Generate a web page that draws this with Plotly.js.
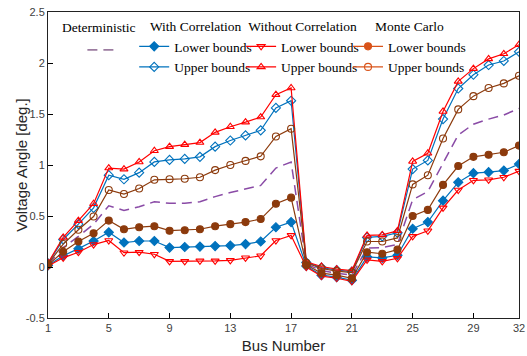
<!DOCTYPE html>
<html>
<head>
<meta charset="utf-8">
<script src="https://cdn.plot.ly/plotly-3.0.1.min.js"></script>
<style>html,body{margin:0;padding:0;background:#fff;}#chart{width:527px;height:356px;}</style>
</head>
<body>
<div id="chart"></div>
<script>
const bus = [1,2,3,4,5,6,7,8,9,10,11,12,13,14,15,16,17,18,19,20,21,22,23,24,25,26,27,28,29,30,31,32];
const xTicks = [1,5,9,13,17,21,25,29,32];
const yTicks = [-0.5,0,0.5,1,1.5,2,2.5];
const yTickText = ['-0.5','0','0.5','1','1.5','2','2.5'];

const deterministic = [0.025,0.19,0.30,0.42,0.60,0.555,0.59,0.64,0.625,0.625,0.64,0.69,0.73,0.765,0.80,0.97,1.03,0.03,-0.035,-0.06,-0.08,0.185,0.19,0.22,0.66,0.74,1.02,1.295,1.40,1.45,1.49,1.555];
const wcLower = [0.015,0.11,0.18,0.255,0.34,0.24,0.255,0.255,0.19,0.196,0.20,0.205,0.21,0.225,0.25,0.39,0.44,0.01,-0.08,-0.10,-0.13,0.10,0.09,0.115,0.375,0.44,0.65,0.83,0.92,0.93,0.945,1.01];
const wcUpper = [0.035,0.27,0.42,0.58,0.90,0.86,0.925,1.03,1.05,1.06,1.08,1.18,1.24,1.29,1.34,1.56,1.63,0.045,-0.005,-0.03,-0.045,0.29,0.30,0.335,0.96,1.045,1.45,1.75,1.885,1.98,2.02,2.11];
const woLower = [0.01,0.09,0.145,0.22,0.26,0.14,0.145,0.125,0.055,0.055,0.06,0.06,0.065,0.09,0.11,0.26,0.31,0.0,-0.09,-0.11,-0.14,0.07,0.055,0.085,0.30,0.355,0.58,0.755,0.85,0.855,0.88,0.94];
const woUpper = [0.04,0.29,0.455,0.62,0.97,0.96,1.03,1.14,1.18,1.20,1.22,1.32,1.375,1.42,1.47,1.69,1.755,0.05,0.005,-0.02,-0.035,0.31,0.315,0.355,1.035,1.115,1.525,1.82,1.945,2.04,2.09,2.18];
const mcLower = [0.02,0.15,0.25,0.33,0.455,0.37,0.39,0.40,0.356,0.36,0.37,0.40,0.42,0.44,0.47,0.62,0.68,0.02,-0.06,-0.08,-0.11,0.145,0.13,0.17,0.50,0.56,0.805,0.99,1.08,1.10,1.125,1.19];
const mcUpper = [0.03,0.225,0.365,0.495,0.755,0.715,0.77,0.855,0.86,0.865,0.88,0.95,1.0,1.04,1.085,1.28,1.355,0.04,-0.015,-0.04,-0.055,0.25,0.25,0.285,0.81,0.90,1.26,1.545,1.675,1.755,1.80,1.875];

const legendTitles = ['Deterministic','With Correlation','Without Correlation','Monte Carlo'];
const boundNames = ['Lower bounds','Upper bounds'];

const BLUE = '#0072BD', RED = '#FF0000', BROWN = '#8C3A0C', ORANGE = '#D95319', PURPLE = '#8a4ba6', MAUVE = '#9c7ca0';

function series(y, color, symbol, dash, withMarkers) {
  const t = {x: bus, y: y, type: 'scatter', mode: withMarkers ? 'lines+markers' : 'lines',
    line: {color: color, width: dash ? 1.5 : 1.2, dash: dash || 'solid'}, showlegend: false, hoverinfo: 'skip'};
  if (withMarkers) t.marker = {symbol: symbol, size: 7, color: color, line: {color: color, width: 1.1}};
  return t;
}
function legendItem(name, color, symbol, dash, leg, withMarkers) {
  const t = {x: [null], y: [null], type: 'scatter', mode: withMarkers ? 'lines+markers' : 'lines',
    name: name, legend: leg, line: {color: color, width: dash ? 1.8 : 1.4, dash: dash || 'solid'}};
  if (withMarkers) t.marker = {symbol: symbol, size: 7, color: color, line: {color: color, width: 1.1}};
  return t;
}

const data = [
  series(deterministic, PURPLE, null, '10px,6px', false),
  series(wcLower, BLUE, 'diamond', null, true),
  series(wcUpper, BLUE, 'diamond-open', null, true),
  series(woLower, RED, 'triangle-down-open', null, true),
  series(woUpper, RED, 'triangle-up-open', null, true),
  series(mcLower, BROWN, 'circle', null, true),
  series(mcUpper, BROWN, 'circle-open', null, true),
  legendItem(' ', MAUVE, null, '10px,6px', 'legend', false),
  legendItem(boundNames[0], BLUE, 'diamond', null, 'legend2', true),
  legendItem(boundNames[1], BLUE, 'diamond-open', null, 'legend2', true),
  legendItem(boundNames[0], RED, 'triangle-down-open', null, 'legend3', true),
  legendItem(boundNames[1], RED, 'triangle-up-open', null, 'legend3', true),
  legendItem(boundNames[0], ORANGE, 'circle', null, 'legend4', true),
  legendItem(boundNames[1], ORANGE, 'circle-open', null, 'legend4', true)
];

const serif = {family: 'Liberation Serif, Times New Roman, serif', size: 13.5, color: '#000'};
function leg(x, y, title) {
  const l = {x: x, y: y, xanchor: 'left', yanchor: 'top', bgcolor: 'rgba(0,0,0,0)', borderwidth: 0,
    font: serif, tracegroupgap: 0, itemwidth: 30, traceorder: 'normal'};
  if (title) l.title = {text: title, side: 'top center', font: serif};
  return l;
}

const layout = {
  width: 527, height: 356,
  margin: {l: 48, r: 8, t: 12, b: 38},
  paper_bgcolor: '#fff', plot_bgcolor: '#fff',
  font: {family: 'Liberation Sans, Arial, sans-serif', color: '#262626'},
  showlegend: true,
  legend: leg(0.073, 0.926, null),
  legend2: leg(0.183, 0.995, legendTitles[1]),
  legend3: leg(0.41, 0.995, legendTitles[2]),
  legend4: leg(0.637, 0.995, legendTitles[3]),
  xaxis: {range: [1, 32], tickvals: xTicks, ticktext: xTicks.map(String), ticks: 'inside', ticklen: 5,
    tickcolor: '#000', showline: true, linecolor: '#222', linewidth: 1, mirror: true, showgrid: false, zeroline: false,
    tickfont: {size: 11, color: '#404040'},
    title: {text: 'Bus Number', font: {size: 15, color: '#262626'}, standoff: 7}},
  yaxis: {range: [-0.5, 2.5], tickvals: yTicks, ticktext: yTickText, ticks: 'inside', ticklen: 5,
    tickcolor: '#000', showline: true, linecolor: '#222', linewidth: 1, mirror: true, showgrid: false, zeroline: false,
    tickfont: {size: 11, color: '#404040'}},
  annotations: [
    {text: 'Voltage Angle [deg.]', xref: 'paper', yref: 'paper', x: -0.058, y: 0.5,
      xanchor: 'center', yanchor: 'middle', textangle: -90, showarrow: false,
      font: {size: 15, color: '#262626', family: 'Liberation Sans, Arial, sans-serif'}},
    {text: legendTitles[0], xref: 'paper', yref: 'paper', x: 0.108, y: 0.949,
      xanchor: 'center', yanchor: 'middle', showarrow: false, font: serif}
  ]
};

Plotly.newPlot('chart', data, layout, {displayModeBar: false, staticPlot: true});
</script>
</body>
</html>
